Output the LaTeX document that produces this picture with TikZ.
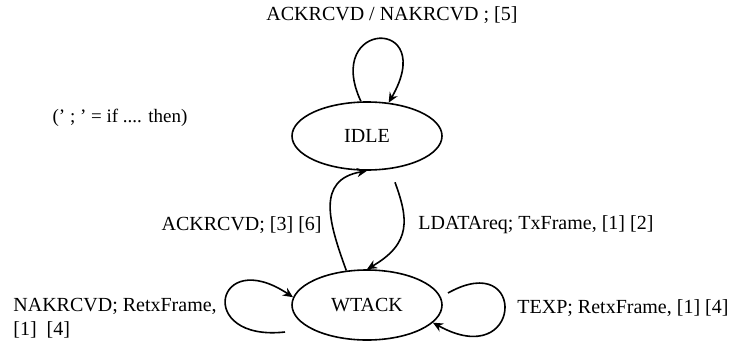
\documentclass[tikz,border=0pt]{standalone}
\usepackage{fontspec}
\setmainfont{Liberation Serif}
\usetikzlibrary{shapes.geometric,arrows.meta}

\begin{document}
\begin{tikzpicture}[x=0.5pt, y=0.5pt,
        state/.style={ellipse, draw, line width=0.8pt, minimum width=75pt,
            minimum height=34pt, inner sep=0pt, font=\fontsize{10}{12}\selectfont},
        lbl/.style={inner sep=0pt, font=\fontsize{10}{12}\selectfont},
        edge/.style={line width=0.8pt, -{Stealth[length=5pt,width=4.5pt]}}]
        \useasboundingbox (0,0) rectangle (731,344);
        \node[state] (idle) at (367,208) {IDLE};
        \node[state, minimum height=35pt] (wtack) at (367,39) {WTACK};
        \coordinate (nak) at (285,12);
        \coordinate (texp) at (448,51);
        \node[lbl] (top) at (392,329) {ACKRCVD / NAKRCVD ; [5]};
        \node[lbl, font=\fontsize{9.5}{12}\selectfont] (note) at (120,226) {(' ; ' = if .... then)};
        \node[lbl, anchor=east] (ack) at (322,119) {ACKRCVD; [3] [6]};
        \node[lbl, anchor=west] (ldata) at (418,119) {LDATAreq; TxFrame, [1] [2]};
        \node[lbl, anchor=west, align=left] (nakl) at (13,26) {NAKRCVD; RetxFrame,\\{}[1]\ \ [4]};
        \node[lbl, anchor=west] (texpl) at (517,36) {TEXP; RetxFrame, [1] [4]};
        \draw[edge] (idle.100) .. controls +(115:90) and +(60:100) .. (idle.57);
        \draw[edge] (wtack.121) to[out=110, in=190, looseness=1.3] (idle.south);
        \draw[edge, shorten <=7pt] (idle.-55) to[out=-70, in=30, looseness=1.3] (wtack.north);
        \draw[edge] (nak) .. controls +(-90,-10) and +(-78,52) .. (wtack.174);
        \draw[edge] (texp) .. controls +(80,45) and +(90,-50) .. (wtack.-15);
    \end{tikzpicture}
\end{document}
